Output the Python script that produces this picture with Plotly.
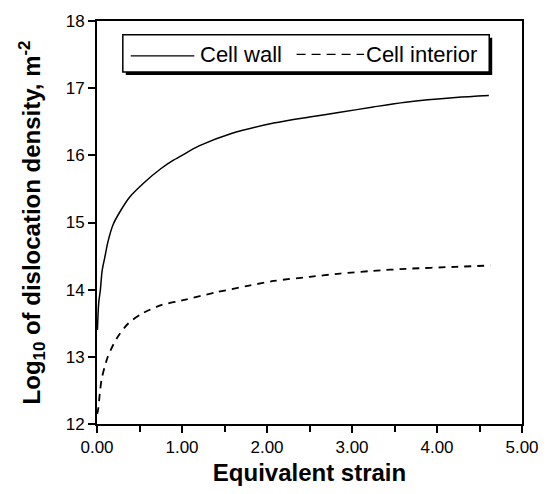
import plotly.graph_objects as go

# ---- data ----
strain_wall = [0.005, 0.02, 0.04, 0.06, 0.09, 0.13, 0.19, 0.27, 0.385, 0.56, 0.75,
               0.89, 1.0, 1.2, 1.59, 2.08, 2.5, 2.86, 3.25, 3.63, 4.22, 4.61]
log_wall = [13.4, 13.8, 14.0, 14.28, 14.47, 14.72, 14.97, 15.16, 15.38, 15.6, 15.8,
            15.92, 16.0, 16.14, 16.33, 16.48, 16.57, 16.64, 16.72, 16.79, 16.86, 16.89]

strain_int = [0.003, 0.015, 0.035, 0.055, 0.09, 0.13, 0.23, 0.37, 0.54, 0.755, 1.0,
              1.4, 1.79, 2.08, 2.5, 2.86, 3.25, 3.63, 4.22, 4.63]
log_int = [12.15, 12.23, 12.48, 12.67, 12.85, 13.01, 13.27, 13.5, 13.65, 13.77, 13.84,
           13.96, 14.06, 14.13, 14.19, 14.24, 14.28, 14.31, 14.34, 14.36]

series_names = ["Cell wall", "Cell interior"]
x_title = "Equivalent strain"
y_title = "Log<sub>10</sub> of dislocation density, m<sup>-2</sup>"

W, H = 551, 494
ML, MR, MT, MB = 97, 26, 16, 68
PW, PH = W - ML - MR, H - MT - MB


def px(x):
    return (x - ML) / PW


def py(y):
    return (H - MB - y) / PH


fig = go.Figure()
fig.add_trace(go.Scatter(x=strain_wall, y=log_wall, mode="lines", name=series_names[0],
                         line=dict(color="black", width=1.5, shape="spline", smoothing=0.8),
                         showlegend=False))
fig.add_trace(go.Scatter(x=strain_int, y=log_int, mode="lines", name=series_names[1],
                         line=dict(color="black", width=1.8, dash="7px,6px", shape="spline",
                                   smoothing=0.8),
                         showlegend=False))

font_family = "Liberation Sans, Arial, sans-serif"

shapes = [
    # legend shadow
    dict(type="rect", xref="paper", yref="paper", x0=px(126), x1=px(495), y0=py(71), y1=py(33),
         fillcolor="black", line=dict(width=0), layer="above"),
    # legend box
    dict(type="rect", xref="paper", yref="paper", x0=px(123), x1=px(492), y0=py(68), y1=py(30),
         fillcolor="white", line=dict(color="black", width=1.5), layer="above"),
    # legend samples
    dict(type="line", xref="paper", yref="paper", x0=px(131), x1=px(195), y0=py(51.5), y1=py(51.5),
         line=dict(color="black", width=1.3), layer="above"),
    dict(type="line", xref="paper", yref="paper", x0=px(298), x1=px(366), y0=py(50), y1=py(50),
         line=dict(color="black", width=1.3, dash="9px,6px"), layer="above"),
]

annotations = [
    dict(xref="paper", yref="paper", x=px(199), y=py(50), xanchor="left", yanchor="middle",
         text=series_names[0], showarrow=False, font=dict(size=22, color="black", family=font_family)),
    dict(xref="paper", yref="paper", x=px(366), y=py(50), xanchor="left", yanchor="middle",
         text=series_names[1], showarrow=False, font=dict(size=22, color="black", family=font_family)),
]

fig.update_layout(
    width=W, height=H,
    margin=dict(l=ML, r=MR, t=MT, b=MB, pad=0),
    paper_bgcolor="white", plot_bgcolor="white",
    font=dict(family=font_family, color="black"),
    shapes=shapes, annotations=annotations,
    showlegend=False,
)

fig.update_xaxes(
    range=[0, 5], tickvals=[0, 1, 2, 3, 4, 5], tickformat=".2f",
    ticks="outside", ticklen=7, tickwidth=1.5, tickcolor="black",
    minor=dict(tickvals=[0.5, 1.5, 2.5, 3.5, 4.5], ticks="outside", ticklen=6,
               tickwidth=1.5, tickcolor="black", showgrid=False),
    showline=True, linecolor="black", linewidth=2, mirror=True,
    showgrid=False, zeroline=False,
    tickfont=dict(size=17, color="black"),
    title=dict(text=x_title, font=dict(size=24, color="black", family=font_family,
                                       weight="bold"), standoff=8),
)

fig.update_yaxes(
    range=[12, 18], tickvals=[12, 13, 14, 15, 16, 17, 18],
    ticks="outside", ticklen=7, tickwidth=1.5, tickcolor="black",
    showline=True, linecolor="black", linewidth=2, mirror=True,
    showgrid=False, zeroline=False,
    tickfont=dict(size=17, color="black"),
    title=dict(text=y_title, font=dict(size=24, color="black", family=font_family,
                                       weight="bold"), standoff=18),
)

fig.write_html("out.html")
